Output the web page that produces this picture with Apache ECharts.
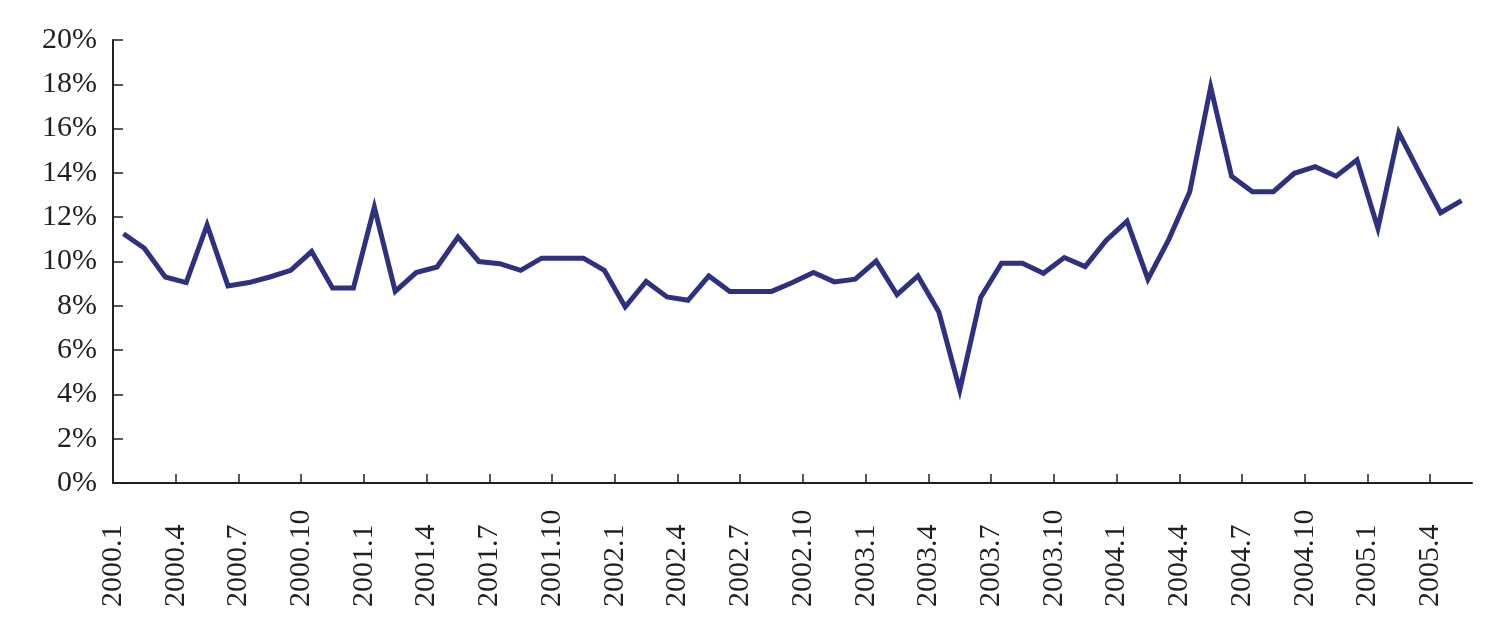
<!DOCTYPE html>
<html>
<head>
<meta charset="utf-8">
<script src="https://cdn.jsdelivr.net/npm/echarts@6/dist/echarts.min.js"></script>
<style>
html,body{margin:0;padding:0;background:#ffffff;}
#chart{width:1512px;height:643px;}
</style>
</head>
<body>
<div id="chart"></div>
<script>
// Months 2000.1 – 2005.5
const months = [
  "2000.1","2000.2","2000.3","2000.4","2000.5","2000.6","2000.7","2000.8","2000.9","2000.10","2000.11","2000.12",
  "2001.1","2001.2","2001.3","2001.4","2001.5","2001.6","2001.7","2001.8","2001.9","2001.10","2001.11","2001.12",
  "2002.1","2002.2","2002.3","2002.4","2002.5","2002.6","2002.7","2002.8","2002.9","2002.10","2002.11","2002.12",
  "2003.1","2003.2","2003.3","2003.4","2003.5","2003.6","2003.7","2003.8","2003.9","2003.10","2003.11","2003.12",
  "2004.1","2004.2","2004.3","2004.4","2004.5","2004.6","2004.7","2004.8","2004.9","2004.10","2004.11","2004.12",
  "2005.1","2005.2","2005.3","2005.4","2005.5"
];
// Growth rate (%)
const growth = [
  11.25, 10.6, 9.3, 9.05, 11.65, 8.9, 9.05, 9.3, 9.6, 10.45, 8.8, 8.8,
  12.45, 8.65, 9.5, 9.75, 11.1, 10.0, 9.9, 9.6, 10.15, 10.15, 10.15, 9.6,
  7.95, 9.1, 8.4, 8.25, 9.35, 8.65, 8.65, 8.65, 9.05, 9.5, 9.08, 9.2,
  10.02, 8.5, 9.35, 7.72, 4.2, 8.38, 9.92, 9.92, 9.47, 10.18, 9.77, 10.95,
  11.82, 9.2, 11.0, 13.15, 17.88, 13.85, 13.15, 13.15, 13.98, 14.28, 13.85, 14.58,
  11.5, 15.82, 13.98, 12.2, 12.75
];
// Label every 3 months
const labelStep = 3;
const yTickValues = [0, 2, 4, 6, 8, 10, 12, 14, 16, 18, 20];

const xTickValues = months.map((m, i) => i).filter(i => i % labelStep === 0);
const seriesData = growth.map((v, i) => [i + 0.5, v]);

const textColor = '#231f20';
const fontFamily = '"Liberation Serif", "Times New Roman", serif';

const chart = echarts.init(document.getElementById('chart'), null, {renderer: 'canvas'});
chart.setOption({
  animation: false,
  backgroundColor: '#ffffff',
  grid: {left: 113, right: 40, top: 40, bottom: 160, containLabel: false},
  xAxis: {
    type: 'value',
    min: 0,
    max: months.length,
    interval: labelStep,
    axisLine: {show: true, onZero: false, lineStyle: {color: textColor, width: 2}},
    axisTick: {show: true, inside: true, length: 9, customValues: xTickValues, lineStyle: {color: textColor, width: 1.5}},
    axisLabel: {
      show: true,
      customValues: xTickValues,
      rotate: 90,
      align: 'left',
      verticalAlign: 'middle',
      margin: 124,
      formatter: v => months[Math.round(v)] || '',
      fontSize: 30,
      fontFamily: fontFamily,
      color: textColor
    },
    splitLine: {show: false}
  },
  yAxis: {
    type: 'value',
    min: yTickValues[0],
    max: yTickValues[yTickValues.length - 1],
    interval: 2,
    axisLine: {show: true, lineStyle: {color: textColor, width: 2}},
    axisTick: {show: true, inside: true, length: 10, lineStyle: {color: textColor, width: 1.5}},
    axisLabel: {
      formatter: '{value}%',
      margin: 16,
      fontSize: 30,
      fontFamily: fontFamily,
      color: textColor
    },
    splitLine: {show: false}
  },
  series: [{
    type: 'line',
    data: seriesData,
    showSymbol: false,
    lineStyle: {color: '#2e3180', width: 5, join: 'miter'},
    itemStyle: {color: '#2e3180'}
  }]
});
</script>
</body>
</html>
